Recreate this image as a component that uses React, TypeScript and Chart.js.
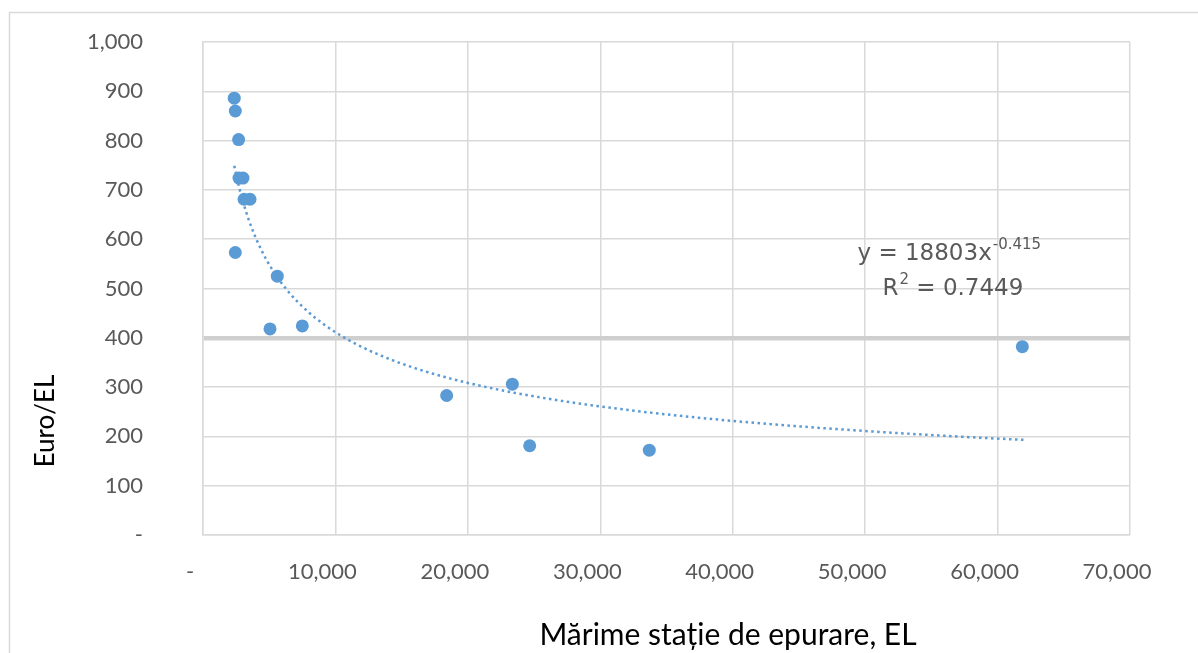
import React, { useEffect, useRef } from "react";
import { Chart, registerables } from "chart.js";

Chart.register(...registerables);

// Plant size (EL) and cost (Euro/EL)
const plantSizeEL = [2360, 2440, 2690, 2720, 3020, 3100, 3550, 2440, 5610, 5060, 7500, 18400, 23360, 24670, 33700, 61870];
const costPerEL = [886, 860, 802, 724, 724, 681, 681, 573, 525, 418, 424, 283, 306, 181, 172, 382];

const xTickValues = [0, 10000, 20000, 30000, 40000, 50000, 60000, 70000];
const yTickValues = [0, 100, 200, 300, 400, 500, 600, 700, 800, 900, 1000];

// Power trendline as displayed in the chart
const trendCoef = 18803;
const trendExp = -0.415;
const trendR2 = "0.7449";
const trendXStart = 2360;
const trendXEnd = 62000;

const xTitle = "Mărime stație de epurare, EL";
const yTitle = "Euro/EL";

const FONT = "Lato, 'Open Sans', sans-serif";
const EQ_FONT = "'DejaVu Sans', sans-serif";
const BLUE = "#5b9bd5";
const GRAY_TEXT = "#595959";
const GRID = "#d9d9d9";

function fmt(v: number): string {
  if (v === 0) return "-";
  return v.toLocaleString("en-US");
}

export default function App() {
  const ref = useRef<HTMLCanvasElement | null>(null);

  useEffect(() => {
    if (!ref.current) return;
    const scatter = plantSizeEL.map((x, i) => ({ x, y: costPerEL[i] }));
    const trend: { x: number; y: number }[] = [];
    const n = 240;
    for (let i = 0; i <= n; i++) {
      const x = trendXStart * Math.pow(trendXEnd / trendXStart, i / n);
      trend.push({ x, y: trendCoef * Math.pow(x, trendExp) });
    }

    const decor = {
      id: "decor",
      beforeDraw(chart: any) {
        const c = chart.ctx;
        c.save();
        c.fillStyle = "#ffffff";
        c.fillRect(0, 0, chart.width, chart.height);
        c.strokeStyle = "#d9d9d9";
        c.lineWidth = 1.5;
        c.strokeRect(9.5, 12.5, chart.width + 50, chart.height + 50);
        c.restore();
      },
      afterDraw(chart: any) {
        const c = chart.ctx;
        const a = chart.chartArea;
        c.save();
        // y title
        c.fillStyle = "#000000";
        c.font = `26px ${FONT}`;
        c.textAlign = "center";
        c.textBaseline = "middle";
        c.translate(46, 421);
        c.rotate(-Math.PI / 2);
        c.fillText(yTitle, 0, 0);
        c.restore();

        c.save();
        c.fillStyle = "#000000";
        c.font = `30px ${FONT}`;
        c.textAlign = "center";
        c.textBaseline = "middle";
        c.fillText(xTitle, 728, 635);
        c.restore();

        // equation
        c.save();
        c.fillStyle = GRAY_TEXT;
        c.textAlign = "left";
        c.textBaseline = "alphabetic";
        c.font = `23px ${EQ_FONT}`;
        const ex = a.left + (a.right - a.left) * 0.706;
        const eqMain = `y = ${trendCoef}x`;
        c.fillText(eqMain, ex, 260);
        const w1 = c.measureText(eqMain).width;
        c.font = `15px ${EQ_FONT}`;
        c.fillText(String(trendExp), ex + w1 + 1, 249);
        c.font = `23px ${EQ_FONT}`;
        const rx = ex + 25;
        c.fillText("R", rx, 295);
        const wr = c.measureText("R").width;
        c.font = `15px ${EQ_FONT}`;
        c.fillText("2", rx + wr + 1, 284);
        const w2 = c.measureText("2").width;
        c.font = `23px ${EQ_FONT}`;
        c.fillText(` = ${trendR2}`, rx + wr + w2 + 1, 295);
        c.restore();
      },
    };

    const chart = new Chart(ref.current, {
      type: "scatter",
      data: {
        datasets: [
          {
            label: "trend",
            data: trend,
            showLine: true,
            borderColor: BLUE,
            borderWidth: 2.5,
            borderDash: [2.5, 3.5],
            pointRadius: 0,
            pointHoverRadius: 0,
            fill: false,
            order: 0,
          } as any,
          {
            label: "Euro/EL",
            data: scatter,
            backgroundColor: BLUE,
            borderColor: BLUE,
            pointRadius: 6.5,
            pointBorderWidth: 0,
            order: 1,
          },
        ],
      },
      options: {
        responsive: false,
        animation: false,
        events: [],
        layout: { padding: { left: 0, top: 42, right: 68, bottom: 0 } },
        plugins: {
          legend: { display: false },
          tooltip: { enabled: false },
        },
        scales: {
          x: {
            type: "linear",
            min: 0,
            max: 70000,
            afterBuildTicks: (s: any) => {
              s.ticks = xTickValues.map((v) => ({ value: v }));
            },
            afterFit: (s: any) => {
              s.height = 653 - 535;
            },
            ticks: {
              callback: (v: any) => fmt(Number(v)),
              color: GRAY_TEXT,
              font: { family: FONT, size: 22 },
              padding: 0,
              labelOffset: -13,
              maxRotation: 0,
              autoSkip: false,
            },
            grid: {
              color: GRID,
              lineWidth: 1.5,
              drawTicks: true,
              tickLength: 24,
              tickColor: "rgba(0,0,0,0)",
            },
            border: { color: GRID, width: 1.5 },
          },
          y: {
            type: "linear",
            min: 0,
            max: 1000,
            afterBuildTicks: (s: any) => {
              s.ticks = yTickValues.map((v) => ({ value: v }));
            },
            afterFit: (s: any) => {
              s.width = 203;
            },
            ticks: {
              callback: (v: any) => fmt(Number(v)),
              color: GRAY_TEXT,
              font: { family: FONT, size: 22 },
              padding: 0,
              autoSkip: false,
            },
            grid: {
              color: (ctx: any) => (ctx.tick && ctx.tick.value === 400 ? "#cfcfcf" : GRID),
              lineWidth: (ctx: any) => (ctx.tick && ctx.tick.value === 400 ? 4.5 : 1.5),
              drawTicks: true,
              tickLength: 60,
              tickColor: "rgba(0,0,0,0)",
            },
            border: { color: GRID, width: 1.5 },
          },
        },
      },
      plugins: [decor],
    });
    return () => chart.destroy();
  }, []);

  return (
    <div style={{ position: "fixed", left: 0, top: 0, width: 1198, height: 653, background: "#fff" }}>
      <canvas ref={ref} width={1198} height={653} style={{ display: "block" }} />
    </div>
  );
}
